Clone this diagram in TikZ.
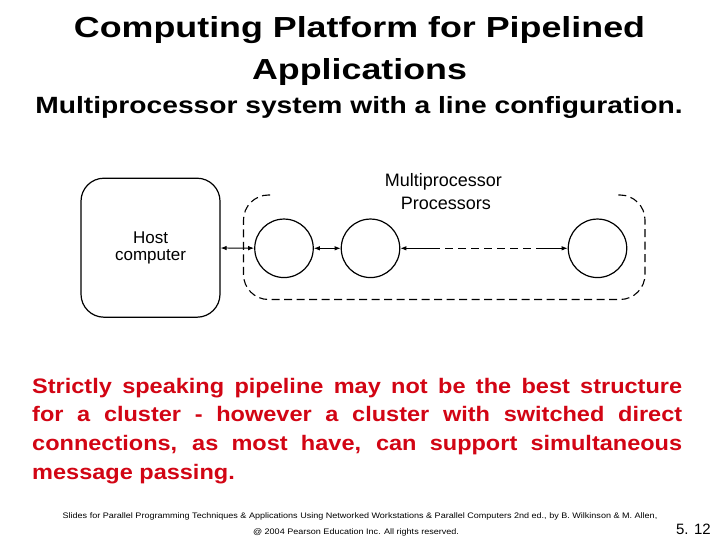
\documentclass[tikz,border=0pt]{standalone}
\usepackage{fontspec}
\setmainfont{Liberation Sans}
\newfontfamily\titlefont[FakeStretch=1.235]{Liberation Sans}
\newfontfamily\subfont[FakeStretch=1.2]{Liberation Sans}
\newfontfamily\redfont[FakeStretch=1.12]{Liberation Sans}
\newfontfamily\footfont[FakeStretch=1.13]{Liberation Sans}
\usetikzlibrary{arrows.meta}
\definecolor{redtext}{RGB}{210,5,20}
\tikzset{
  proc/.style={circle, draw, minimum size=58.5pt, inner sep=0pt, line width=1.2pt},
  hostbox/.style={draw, rounded corners=23pt, minimum width=139pt, minimum height=139pt, line width=1.2pt, align=center, font=\fontsize{17}{17.5}\selectfont},
  link/.style={line width=0.9pt, {Latex[length=6pt,width=4.5pt]}-{Latex[length=6pt,width=4.5pt]}},
  frame/.style={line width=1.1pt, dash pattern=on 8pt off 4.5pt, rounded corners=25pt},
  redline/.style={anchor=base west, inner sep=0pt, text=redtext, font=\redfont\bfseries\fontsize{21}{28.7}\selectfont},
  lbl/.style={anchor=base, inner sep=0pt, font=\fontsize{18}{20}\selectfont},
}
\begin{document}
\begin{tikzpicture}[x=1pt,y=-1pt]
\useasboundingbox (0,0) rectangle (720,540);
\fill[white] (0,0) rectangle (720,540);
% titles
\node[anchor=base, inner sep=0pt, font=\titlefont\bfseries\fontsize{29}{32}\selectfont] (t1) at (359.5,38) {Computing Platform for Pipelined};
\node[anchor=base, inner sep=0pt, font=\titlefont\bfseries\fontsize{29}{32}\selectfont] (t2) at (359.5,80) {Applications};
\node[anchor=base, inner sep=0pt, font=\subfont\bfseries\fontsize{23.5}{26}\selectfont] (sub) at (359,114) {Multiprocessor system with a line configuration.};
% diagram
\node[hostbox] (host) at (150.5,247.7) {Host\\computer};
\node[proc] (c1) at (284,248.3) {};
\node[proc] (c2) at (370.5,248.3) {};
\node[proc] (c3) at (597.5,248.3) {};
\draw[frame] (270,195) -- (243.5,195) -- (243.5,299.5) -- (645,299.5) -- (645,195) -- (617,195);
\node[lbl] (mp) at (443.3,186.7) {Multiprocessor};
\node[lbl] (pr) at (445.8,210) {Processors};
\draw[link] (host) -- (c1);
\draw[link] (c1) -- (c2);
\coordinate (m1) at (432,248.3);
\coordinate (m2) at (537,248.3);
\draw[line width=0.9pt, {Latex[length=6pt,width=4.5pt]}-] (c2) -- (m1);
\draw[line width=0.9pt, dash pattern=on 8pt off 5pt] (m1) -- (m2);
\draw[line width=0.9pt, -{Latex[length=6pt,width=4.5pt]}] (m2) -- (c3);
% red paragraph
\node[redline] (r1) at (32,393) {\makebox[650pt][s]{Strictly speaking pipeline may not be the best structure}};
\node[redline] (r2) at (32,421.7) {\makebox[650pt][s]{for a cluster - however a cluster with switched direct}};
\node[redline] (r3) at (32,450.4) {\makebox[650pt][s]{connections, as most have, can support simultaneous}};
\node[redline] (r4) at (32,479) {message passing.};
% footer
\node[anchor=base, inner sep=0pt, font=\footfont\fontsize{8}{9}\selectfont] (f1) at (360,518) {Slides for Parallel Programming Techniques \& Applications Using Networked Workstations \& Parallel Computers 2nd ed., by B. Wilkinson \& M. Allen,};
\node[anchor=base, inner sep=0pt, font=\footfont\fontsize{8}{9}\selectfont] (f2) at (356,534) {@ 2004 Pearson Education Inc. All rights reserved.};
\node[anchor=base east, inner sep=0pt, font=\fontsize{15}{16}\selectfont] (pg) at (711,534) {5. 12};
\end{tikzpicture}
\end{document}
